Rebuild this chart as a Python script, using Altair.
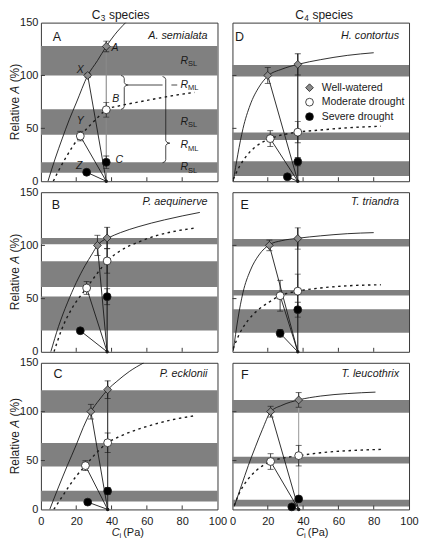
import altair as alt
import pandas as pd

FONT = "Liberation Sans"
INK = "#1a1a1a"
BAND_GRAY = "#808080"

# ---------------- data ----------------
PANELS = ["A", "B", "C", "D", "E", "F"]
SPECIES = ["A. semialata", "P. aequinerve", "P. ecklonii", "H. contortus", "T. triandra", "T. leucothrix"]
GROUPS = ["3", "4"]
TREATMENTS = ["Well-watered", "Moderate drought", "Severe drought"]
X_TICKS = [0, 20, 40, 60, 80, 100]
Y_TICKS = [0, 50, 100, 150]

# grey bands (R_SL), lower and upper relative A
BAND_LO = [[100, 44, 8], [101, 61, 20], [99, 44, 8], [99, 39, 5], [99, 53, 18], [99, 47, 3]]
BAND_HI = [[128, 68, 18], [107, 85, 52], [122, 68, 19], [110, 46, 19], [106, 58, 40], [112, 54, 10]]

# ambient Ci (Pa) and low-Ci points per treatment
AMB_CI = [37, 37.5, 37.8, 37, 37, 37.5]
WW_CI = [26.5, 32, 28.3, 20, 20.9, 21.6]
MD_CI = [22.3, 25.9, 25.2, 21.4, 27, 21.6]
SD_CI = [25.9, 22.3, 26.5, 31.1, 27, 33.6]
# relative A at [low Ci, ambient Ci]
WW_A = [[100, 127.5], [100, 107], [100, 122.5], [100, 110.5], [100, 106.5], [100, 112]]
MD_A = [[42.7, 67.6], [60, 85.4], [44.8, 68.2], [40.3, 46.4], [52.7, 57], [49, 55]]
SD_A = [[8.5, 17.9], [19.8, 51.8], [7.5, 18.8], [4.2, 18.5], [17.4, 39.6], [2.6, 10.7]]
WW_ERR = [[2, 5], [9.5, 10], [7.5, 9], [7.5, 10], [5, 10], [5.5, 7.5]]
MD_ERR = [[4.5, 7], [6, 11.5], [5, 10], [7.5, 10], [14.5, 16], [8, 10.5]]
SD_ERR = [[0, 6], [0, 7.5], [0, 3.5], [0, 4], [3.5, 7], [0, 2]]

# A/Ci response curves
WW_CURVE_X = [
    [4, 8, 12, 16, 20, 26.5, 32, 37, 42, 48],
    [5.6, 10, 15, 20, 25, 29, 32, 35, 38, 45, 55, 70, 90],
    [5, 10, 15, 20, 24, 28.3, 33, 37.8, 43, 50, 58.3],
    [0.5, 3, 6, 10, 15, 20, 28, 37, 50, 65, 80],
    [0.5, 3, 6, 10, 15, 20.9, 28, 37, 50, 65, 80],
    [1, 5, 9, 13, 17, 21.6, 28, 37.5, 50, 65, 81],
]
WW_CURVE_Y = [
    [0, 21, 40, 58, 74, 100, 114, 127.5, 139, 150],
    [0, 24, 46, 65, 81, 92, 100, 104.5, 107, 112, 117.5, 124, 131],
    [0, 23, 45, 66, 84, 100, 112, 122.5, 131, 141, 150],
    [0, 25, 50, 72, 89, 99.4, 106, 110.5, 115, 119, 121.5],
    [1, 30, 56, 76, 91, 100.6, 104.5, 106.7, 109, 111, 112],
    [3, 24, 45, 64, 82, 99.8, 106.5, 112, 116, 118.5, 120],
]
MD_CURVE_X = [
    [7, 10, 14, 18, 22.3, 27, 32, 37, 45, 55, 65, 75, 87],
    [7.4, 12, 18, 25.9, 32, 37.6, 45, 55, 65, 75, 88],
    [7.3, 12, 16, 20, 25.2, 31, 37.8, 45, 55, 65, 75, 88],
    [0.5, 4, 8, 13, 21.4, 30, 37, 50, 65, 84],
    [0.4, 4, 9, 15, 21, 27, 37, 50, 65, 84],
    [1, 4, 8, 13, 21.6, 30, 37.5, 50, 65, 86],
]
MD_CURVE_Y = [
    [0, 10, 22, 33, 42.7, 51.5, 60, 67.6, 71.5, 74.8, 78, 81, 84],
    [0, 22, 42, 60, 74, 85.4, 95, 103, 109, 113, 116.5],
    [0, 13, 24, 34, 44.8, 57, 68.2, 75, 82, 87.5, 92, 96],
    [2, 14, 24, 32.5, 40.3, 44.5, 46.4, 48.5, 50.5, 52],
    [3, 17, 30, 40, 47, 52.7, 57, 60, 62, 63],
    [4, 17, 29, 39, 49, 53, 55, 58, 60, 61.5],
]

# annotations of panel A
ANNOT_TEXT = ["A", "X", "B", "Y", "C", "Z"]
ANNOT_X = [42.0, 22.2, 42.4, 22.2, 44.4, 21.7]
ANNOT_Y = [126, 104.8, 77.5, 57, 20, 14.8]
R_LABEL_X = 79
RSL_Y = [114, 56, 13]
RML_Y = [91, 34]
BRACE_SPINE_X = [47.2, 70.7]
BRACE_TOP = [100, 99]
BRACE_BOTTOM = [68, 17.5]
BRACE_TIP = [91, 36]
LINK_X0 = [49.5, 73.9]
LINK_X1 = [68.9, 77.2]
LINK_Y = [91, 91]

# ---------------- layout / style ----------------
W = 177
HEIGHTS = [159, 160, 147]
LETTER_X = [16, 15, 17, 7, 12.3, 12.3]
LETTER_Y = [14.5, 12.5, 11.5, 14.5, 12.5, 12]
SPEC_Y = [13, 10, 11, 13, 10, 11.5]
VLINE_COLOR = ["#8a8a8a", INK, "#333333", INK, INK, "#a0a0a0"]
XTITLE_X = [71, 64]
TITLE_X = [51, 63]
SHAPES = ["diamond", "circle", "circle"]
FILLS = ["#8c8c8c", "white", "black"]
STROKES = [INK, INK, INK]


def one(v):
    return pd.DataFrame({"t": [v]})


def make_panel(i):
    row, col = i % 3, i // 3
    h = HEIGHTS[row]
    xs = alt.Scale(domain=[0, 100], nice=False, zero=False)
    ys = alt.Scale(domain=[0, 150], nice=False, zero=False)
    xaxis = (alt.Axis(values=X_TICKS, ticks=False, domain=False, grid=False, labelFlush=False,
                      labelPadding=6, title=None) if row == 2 else None)
    yaxis = (alt.Axis(values=Y_TICKS, ticks=False, domain=False, grid=False, labelPadding=3,
                      title=None) if col == 0 else None)

    def ex(f):
        return alt.X(f, type="quantitative", scale=xs, axis=xaxis)

    def ey(f):
        return alt.Y(f, type="quantitative", scale=ys, axis=yaxis)

    layers = []
    bands = pd.DataFrame({"lo": BAND_LO[i], "hi": BAND_HI[i]})
    layers.append(alt.Chart(bands).mark_rect(color=BAND_GRAY).encode(
        y=ey("lo"), y2="hi", x=alt.value(0), x2=alt.value(W)))

    # inward ticks
    layers.append(alt.Chart(pd.DataFrame({"v": [50, 100]})).mark_rule(color="#3a3a3a", strokeWidth=1).encode(
        y=ey("v"), x=alt.value(0), x2=alt.value(4)))
    layers.append(alt.Chart(pd.DataFrame({"v": [20, 40, 60, 80]})).mark_rule(color="#3a3a3a", strokeWidth=1).encode(
        x=ex("v"), y=alt.value(h), y2=alt.value(h - 4)))

    # curves
    wwc = pd.DataFrame({"x": WW_CURVE_X[i], "y": WW_CURVE_Y[i]})
    layers.append(alt.Chart(wwc).mark_line(color=INK, strokeWidth=0.9, interpolate="monotone", clip=True).encode(
        x=ex("x"), y=ey("y")))
    mdc = pd.DataFrame({"x": MD_CURVE_X[i], "y": MD_CURVE_Y[i]})
    layers.append(alt.Chart(mdc).mark_line(color=INK, strokeWidth=1.4, strokeDash=[2.5, 3.5],
                                           interpolate="monotone", clip=True).encode(x=ex("x"), y=ey("y")))

    # vertical at ambient Ci
    vdf = pd.DataFrame({"x": [AMB_CI[i]], "y0": [0], "y1": [WW_A[i][1] + WW_ERR[i][1]]})
    layers.append(alt.Chart(vdf).mark_rule(color=VLINE_COLOR[i], strokeWidth=1.1).encode(
        x=ex("x"), y=ey("y0"), y2="y1"))

    # lines from low-Ci points to zero
    ldf = pd.DataFrame({"x": [WW_CI[i], MD_CI[i], SD_CI[i]],
                        "y": [WW_A[i][0], MD_A[i][0], SD_A[i][0]],
                        "x0": [AMB_CI[i]] * 3, "y0": [0, 0, 0]})
    layers.append(alt.Chart(ldf).mark_rule(color=INK, strokeWidth=0.9).encode(
        x=ex("x"), y=ey("y"), x2="x0", y2="y0"))

    # error bars
    ebx, eblo, ebhi = [], [], []
    for cis, vals, errs in [(WW_CI, WW_A, WW_ERR), (MD_CI, MD_A, MD_ERR), (SD_CI, SD_A, SD_ERR)]:
        for k, xv in enumerate([cis[i], AMB_CI[i]]):
            if errs[i][k] > 0:
                ebx.append(xv)
                eblo.append(vals[i][k] - errs[i][k])
                ebhi.append(vals[i][k] + errs[i][k])
    edf = pd.DataFrame({"x": ebx, "lo": eblo, "hi": ebhi})
    layers.append(alt.Chart(edf).mark_rule(color=INK, strokeWidth=0.8).encode(
        x=ex("x"), y=ey("lo"), y2="hi"))
    cdf = pd.DataFrame({"x": ebx + ebx, "y": eblo + ebhi})
    layers.append(alt.Chart(cdf).mark_tick(orient="horizontal", size=6, thickness=0.9, color=INK).encode(
        x=ex("x"), y=ey("y")))

    # zero point
    layers.append(alt.Chart(pd.DataFrame({"x": [AMB_CI[i]], "y": [0]})).mark_circle(
        size=12, color=INK, opacity=1).encode(x=ex("x"), y=ey("y")))

    # data points
    leg = None
    if i == 3:
        leg = alt.Legend(orient="none", legendX=72, legendY=60, title=None, labelFont=FONT,
                         labelFontSize=10.5, labelColor=INK, symbolStrokeWidth=0.8, symbolSize=60,
                         rowPadding=2.5, padding=0, labelOffset=7)
    pts = pd.DataFrame({
        "x": [WW_CI[i], AMB_CI[i], MD_CI[i], AMB_CI[i], SD_CI[i], AMB_CI[i]],
        "y": [WW_A[i][0], WW_A[i][1], MD_A[i][0], MD_A[i][1], SD_A[i][0], SD_A[i][1]],
        "t": [TREATMENTS[0]] * 2 + [TREATMENTS[1]] * 2 + [TREATMENTS[2]] * 2,
    })
    layers.append(alt.Chart(pts).mark_point(filled=True, size=62, strokeWidth=0.8, opacity=1).encode(
        x=ex("x"), y=ey("y"),
        shape=alt.Shape("t:N", scale=alt.Scale(domain=TREATMENTS, range=SHAPES), legend=leg),
        fill=alt.Fill("t:N", scale=alt.Scale(domain=TREATMENTS, range=FILLS), legend=leg),
        stroke=alt.Stroke("t:N", scale=alt.Scale(domain=TREATMENTS, range=STROKES), legend=leg)))

    # panel A annotations
    if i == 0:
        ann = pd.DataFrame({"x": ANNOT_X, "y": ANNOT_Y, "t": ANNOT_TEXT})
        layers.append(alt.Chart(ann).mark_text(font=FONT, fontStyle="italic", fontSize=10.5, color=INK).encode(
            x=ex("x"), y=ey("y"), text="t:N"))
        rdf = pd.DataFrame({"x": [R_LABEL_X] * 5, "y": RSL_Y + RML_Y,
                            "r": ["R"] * 5, "s": ["SL"] * 3 + ["ML"] * 2})
        layers.append(alt.Chart(rdf).mark_text(font=FONT, fontStyle="italic", fontSize=10.5, color=INK,
                                               align="left", baseline="middle").encode(
            x=ex("x"), y=ey("y"), text="r:N"))
        layers.append(alt.Chart(rdf).mark_text(font=FONT, fontSize=7.5, color=INK, align="left",
                                               baseline="middle", dx=7.6, dy=3.5).encode(
            x=ex("x"), y=ey("y"), text="s:N"))
        bx, by, bo, bid = [], [], [], []
        for k in range(2):
            s, T, B, M = BRACE_SPINE_X[k], BRACE_TOP[k], BRACE_BOTTOM[k], BRACE_TIP[k]
            path = [(s - 1.8, T), (s - 0.5, T - 0.9), (s, T - 2.8), (s, M + 2.4), (s + 0.7, M + 0.7),
                    (s + 2.3, M), (s + 0.7, M - 0.7), (s, M - 2.4), (s, B + 2.8), (s - 0.5, B + 0.9),
                    (s - 1.8, B)]
            for j, (px, py) in enumerate(path):
                bx.append(px)
                by.append(py)
                bo.append(j)
                bid.append(k)
        bdf = pd.DataFrame({"x": bx, "y": by, "o": bo, "b": bid})
        layers.append(alt.Chart(bdf).mark_line(color=INK, strokeWidth=0.8, interpolate="linear").encode(
            x=ex("x"), y=ey("y"), order="o:Q", detail="b:N"))
        kdf = pd.DataFrame({"x": LINK_X0, "x1": LINK_X1, "y": LINK_Y})
        layers.append(alt.Chart(kdf).mark_rule(color=INK, strokeWidth=0.8).encode(
            x=ex("x"), x2="x1", y=ey("y")))

    # panel letter and species
    layers.append(alt.Chart(one(PANELS[i])).mark_text(font=FONT, fontSize=12.5, color=INK,
                                                     align="center", baseline="middle").encode(
        x=alt.value(LETTER_X[i]), y=alt.value(LETTER_Y[i]), text="t:N"))
    layers.append(alt.Chart(one(SPECIES[i])).mark_text(font=FONT, fontSize=10.8, fontStyle="italic", color=INK,
                                                      align="right", baseline="middle").encode(
        x=alt.value(W - 10), y=alt.value(SPEC_Y[i]), text="t:N"))

    # column title (top row)
    if row == 0:
        t0 = TITLE_X[col]
        for txt, size, xx, dy in [("C", 12, t0, 0), (GROUPS[col], 8.2, t0 + 8.9, 3.4),
                                  ("species", 12, t0 + 17.2, 0)]:
            layers.append(alt.Chart(one(txt)).mark_text(font=FONT, fontSize=size, color=INK,
                                                        align="left", baseline="middle", dy=dy).encode(
                x=alt.value(xx), y=alt.value(-7.5), text="t:N"))

    # y title (left column)
    if col == 0:
        c = h / 2
        for txt, style, al, yy in [("Relative", "normal", "right", c - 5.0),
                                   ("A", "italic", "center", c - 12.3),
                                   ("(%)", "normal", "left", c - 19.6)]:
            layers.append(alt.Chart(one(txt)).mark_text(font=FONT, fontSize=12, fontStyle=style, color=INK,
                                                        align=al, baseline="middle", angle=270).encode(
                x=alt.value(-26), y=alt.value(yy), text="t:N"))
    # x title (bottom row)
    if row == 2:
        x0 = XTITLE_X[col]
        for txt, style, size, xx, dy in [("C", "italic", 11, x0, 0),
                                         ("i", "normal", 7.5, x0 + 7.8, 3),
                                         ("(Pa)", "normal", 11, x0 + 11.5, 0)]:
            layers.append(alt.Chart(one(txt)).mark_text(font=FONT, fontSize=size, fontStyle=style, color=INK,
                                                        align="left", baseline="middle", dy=dy).encode(
                x=alt.value(xx), y=alt.value(h + 24), text="t:N"))

    return alt.layer(*layers).properties(width=W, height=h)


panels = [make_panel(k) for k in range(6)]
chart = alt.concat(*[panels[k] for k in [0, 3, 1, 4, 2, 5]], columns=2,
                   spacing={"row": 11, "column": 15}, bounds="flush")
chart = (chart.resolve_scale(shape="independent", fill="independent", stroke="independent")
         .resolve_legend(shape="independent", fill="independent", stroke="independent")
         .properties(padding=0)
         .configure_view(stroke="#3a3a3a", strokeWidth=1)
         .configure_axis(labelFont=FONT, labelFontSize=11, labelColor=INK))

chart.save("out.html", embed_options={"renderer": "svg", "actions": False})
